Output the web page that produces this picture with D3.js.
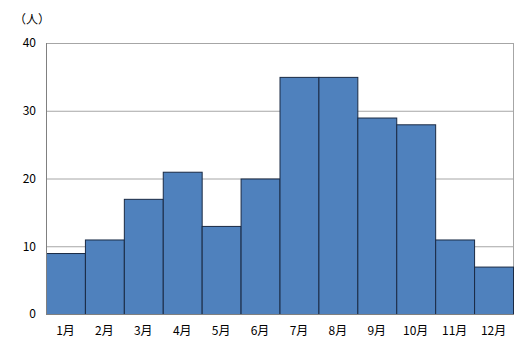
<!DOCTYPE html>
<html><head><meta charset="utf-8">
<script src="https://cdn.jsdelivr.net/npm/d3@7"></script>
<style>body{margin:0;background:#fff}</style>
</head><body>
<svg id="c" width="530" height="353"></svg>
<script>
const months = ["1月","2月","3月","4月","5月","6月","7月","8月","9月","10月","11月","12月"];
const counts = [9,11,17,21,13,20,35,35,29,28,11,7];
const yTicks = [0,10,20,30,40];
const unitLabel = "（人）";

const svg = d3.select("#c");
const m = {l:46, r:513, t:43, b:314};
const x = d3.scaleBand().domain(months).range([m.l, m.r]).padding(0);
const y = d3.scaleLinear().domain([0,40]).range([m.b, m.t]);
const font = "'Noto Sans CJK JP', sans-serif";

svg.append("g").selectAll("line").data(yTicks).join("line")
  .attr("x1", m.l).attr("x2", m.r)
  .attr("y1", d=>y(d)+0.5).attr("y2", d=>y(d)+0.5)
  .attr("stroke", "#a6a6a6").attr("stroke-width", 1);

svg.append("rect").attr("x", m.l+0.5).attr("y", m.t+0.5)
  .attr("width", m.r-m.l).attr("height", m.b-m.t)
  .attr("fill","none").attr("stroke","#a6a6a6");

svg.append("g").selectAll("rect").data(counts).join("rect")
  .attr("x", (d,i)=>x(months[i])+0.5)
  .attr("y", d=>y(d)+0.5)
  .attr("width", x.bandwidth())
  .attr("height", d=>y(0)-y(d))
  .attr("fill", "#4f81bd")
  .attr("stroke", "#1a2a44").attr("stroke-width", 1);

svg.append("line").attr("x1", m.l).attr("x2", m.r+1)
  .attr("y1", m.b+0.5).attr("y2", m.b+0.5).attr("stroke","#808080");
svg.append("line").attr("x1", m.l+0.5).attr("x2", m.l+0.5)
  .attr("y1", m.t).attr("y2", m.b+1).attr("stroke","#808080");

const yAxis = d3.axisLeft(y).tickValues(yTicks).tickSize(0).tickPadding(10);
const ga = svg.append("g").attr("transform", `translate(${m.l},0)`).call(yAxis);
ga.select(".domain").remove();
ga.selectAll("text").attr("font-family", font).attr("font-size", 12).attr("fill","#000");

const xAxis = d3.axisBottom(x).tickSize(0).tickPadding(12);
const gx = svg.append("g").attr("transform", `translate(0,${m.b})`).call(xAxis);
gx.select(".domain").remove();
gx.selectAll("text").attr("font-family", font).attr("font-size", 12).attr("fill","#000");

svg.append("text").attr("x", 14).attr("y", 24).text(unitLabel)
  .attr("font-family", font).attr("font-size", 12).attr("fill","#000");
</script>
</body></html>
